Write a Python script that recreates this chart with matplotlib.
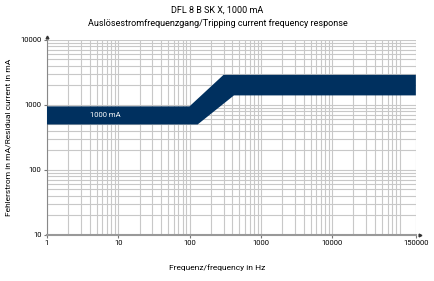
import matplotlib.pyplot as plt
from matplotlib.ticker import FixedLocator, NullFormatter

# Frequenzgang (Hz) und Auslösestrom (mA)
freq_oben = [1, 100, 300, 150000]
strom_oben = [950, 950, 2900, 2900]
freq_unten = [1, 130, 420, 150000]
strom_unten = [500, 500, 1400, 1400]

x_ticks = [1, 10, 100, 1000, 10000, 150000]
x_labels = ["1", "10", "100", "1000", "10000", "150000"]
y_ticks = [10, 100, 1000, 10000]
y_labels = ["10", "100", "1000", "10000"]

blau = "#00305f"
grau = "#c8c8c8"

plt.rcParams['font.family'] = ['Roboto', 'DejaVu Sans']

fig = plt.figure(figsize=(4.35, 2.81), dpi=100)
ax = fig.add_axes([0.108, 0.164, 0.848, 0.694])
ax.set_xscale('log')
ax.set_yscale('log')
ax.set_xlim(1, 150000)
ax.set_ylim(10, 10000)

# Band als Polygon
xs = freq_oben + freq_unten[::-1]
ys = strom_oben + strom_unten[::-1]
ax.fill(xs, ys, color=blau, lw=0, zorder=3)
ax.text(6.5, 690, "1000 mA", color='white', fontsize=5.5, ha='center', va='center', zorder=4)

ax.grid(True, which='both', color=grau, lw=0.8)
ax.set_axisbelow(True)
ax.xaxis.set_major_locator(FixedLocator(x_ticks))
ax.set_xticklabels(x_labels)
ax.yaxis.set_major_locator(FixedLocator(y_ticks))
ax.set_yticklabels(y_labels)
ax.xaxis.set_minor_formatter(NullFormatter())
ax.yaxis.set_minor_formatter(NullFormatter())
ax.tick_params(which='major', labelsize=5.5, length=2, color='#777777', pad=2)
ax.tick_params(which='minor', length=0)

for s in ['top', 'right']:
    ax.spines[s].set_visible(False)
ax.spines['left'].set_color('#888888')
ax.spines['left'].set_linewidth(0.8)
ax.spines['bottom'].set_color('#999999')
ax.spines['bottom'].set_linewidth(1.5)
# Pfeilspitzen an den Achsenenden
ax.plot(0, 1.015, '^', color='#333333', ms=2, transform=ax.transAxes, clip_on=False)
ax.plot(1.01, 0, '>', color='#333333', ms=2, transform=ax.transAxes, clip_on=False)

ax.set_ylabel("Fehlerstrom in mA/Residual current in mA", fontsize=6, labelpad=6)
fig.text(0.5, 0.04, "Frequenz/frequency in Hz", fontsize=6, ha='center')
fig.text(0.5, 0.962, "DFL 8 B SK X, 1000 mA", fontsize=6.5, ha='center', va='center')
fig.text(0.5, 0.918, "Auslösestromfrequenzgang/Tripping current frequency response",
         fontsize=6.5, ha='center', va='center')

fig.savefig('out.png', dpi=100)
